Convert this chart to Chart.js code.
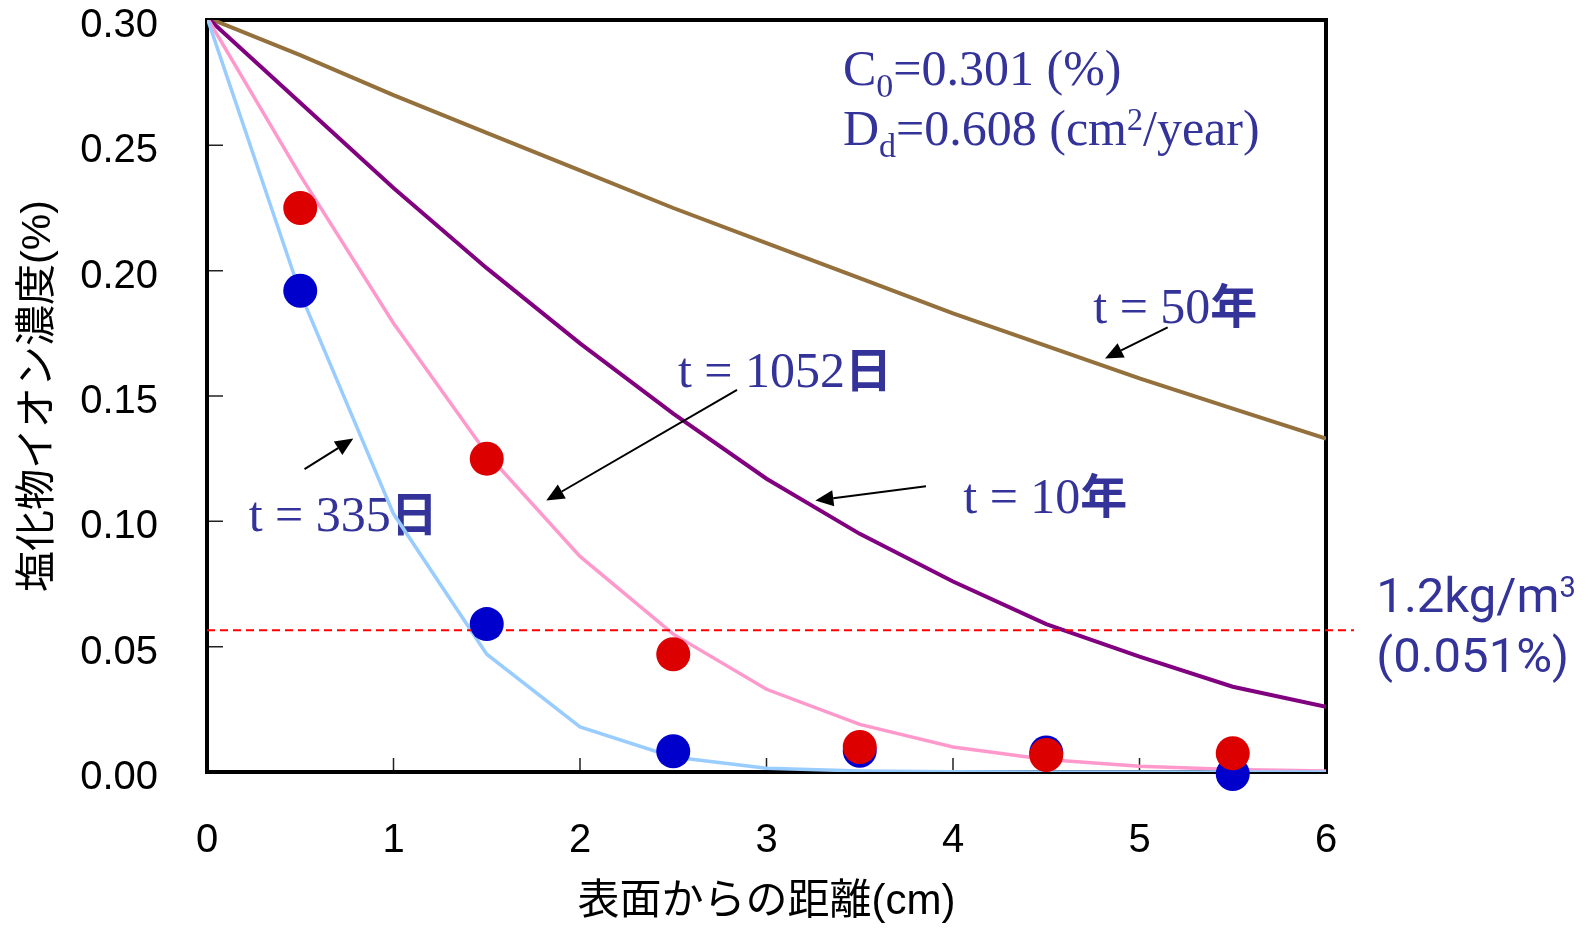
<!DOCTYPE html>
<html>
<head>
<meta charset="utf-8">
<script src="https://cdn.jsdelivr.net/npm/chart.js@4.4.1/dist/chart.umd.min.js"></script>
<style>
    html, body { margin: 0; padding: 0; background: #fff; }
    #chart { display: block; }
</style>
</head>
<body>
<canvas id="chart" width="1592" height="928" style="width:1592px;height:928px"></canvas>
<script>
// 深さ (cm) と計算曲線
const depth = [0, 0.5, 1, 1.5, 2, 2.5, 3, 3.5, 4, 4.5, 5, 5.5, 6];
const conc335d = [0.301, 0.191, 0.103, 0.047, 0.018, 0.006, 0.0015, 0.0004, 0.0001, 0, 0, 0, 0];
const conc1052d = [0.301, 0.238, 0.179, 0.127, 0.086, 0.055, 0.033, 0.019, 0.010, 0.005, 0.0023, 0.001, 0.0004];
const conc10y = [0.301, 0.267, 0.233, 0.201, 0.171, 0.143, 0.117, 0.095, 0.076, 0.059, 0.046, 0.034, 0.026];
const conc50y = [0.301, 0.286, 0.270, 0.255, 0.240, 0.225, 0.211, 0.197, 0.183, 0.170, 0.157, 0.145, 0.133];

// 実測値
const sampleDepth = [0.5, 1.5, 2.5, 3.5, 4.5, 5.5];
const measuredRed = [0.225, 0.125, 0.047, 0.010, 0.0068, 0.0075];
const measuredBlue = [0.192, 0.059, 0.0083, 0.0085, 0.0078, -0.0008];

// 1.2kg/m3 の限界値
const limitDepth = [0, 6.15];
const limitConc = [0.0565, 0.0565];

// 軸目盛
const xTickValues = [0, 1, 2, 3, 4, 5, 6];
const xTickLabels = ['0', '1', '2', '3', '4', '5', '6'];
const yTickValues = [0, 0.05, 0.10, 0.15, 0.20, 0.25, 0.30];
const yTickLabels = ['0.00', '0.05', '0.10', '0.15', '0.20', '0.25', '0.30'];

const toPoints = (xs, ys) => xs.map((x, i) => ({ x: x, y: ys[i] }));

const textColor = '#333399';
const serif = '50px "Liberation Serif"';
const serifSub = '34px "Liberation Serif"';
const serifSup = '32px "Liberation Serif"';
const cjkBold = 'bold 47px "Noto Sans CJK JP"';
const sans = '49px Roboto';
const sansSup = '29px Roboto';

// 注記 (データ座標で位置指定)
const notes = [
    { x: 3.41, y: 0.2741, parts: [['C', serif], ['0', serifSub, 12], ['=0.301 (%)', serif]] },
    { x: 3.41, y: 0.2501, parts: [['D', serif], ['d', serifSub, 12], ['=0.608 (cm', serif], ['2', serifSup, -15], ['/year)', serif]] },
    { x: 4.752, y: 0.1791, parts: [['t = 50', serif], ['年', cjkBold]] },
    { x: 2.525, y: 0.1536, parts: [['t = 1052', serif], ['日', cjkBold]] },
    { x: 4.055, y: 0.1033, parts: [['t = 10', serif], ['年', cjkBold]] },
    { x: 0.2236, y: 0.0961, parts: [['t = 335', serif], ['日', cjkBold]] },
    { x: 6.27, y: 0.0639, parts: [['1.2kg/m', sans], ['3', sansSup, -15]] },
    { x: 6.27, y: 0.0400, parts: [['(0.051%)', sans]] }
];

const arrows = [
    { from: [0.523, 0.1208], to: [0.7845, 0.1330] },
    { from: [2.842, 0.1524], to: [1.819, 0.1083] },
    { from: [3.855, 0.1140], to: [3.262, 0.1083] },
    { from: [5.151, 0.1774], to: [4.815, 0.1650] }
];

function drawParts(ctx, x, y, parts) {
    let cx = x;
    parts.forEach(p => {
        ctx.font = p[1];
        ctx.fillText(p[0], cx, y + (p[2] || 0));
        cx += ctx.measureText(p[0]).width;
    });
}

// 枠・内向き目盛・注記
const framePlugin = {
    id: 'frame',
    beforeDatasetsDraw(chart) {
        const { ctx, chartArea: a, scales: { x, y } } = chart;
        ctx.save();
        ctx.strokeStyle = '#222';
        ctx.lineWidth = 1.5;
        ctx.beginPath();
        yTickValues.forEach(v => {
            const py = y.getPixelForValue(v);
            ctx.moveTo(a.left, py);
            ctx.lineTo(a.left + 16, py);
        });
        xTickValues.forEach(v => {
            const px = x.getPixelForValue(v);
            ctx.moveTo(px, a.bottom);
            ctx.lineTo(px, a.bottom - 14);
        });
        ctx.stroke();
        ctx.strokeStyle = '#000';
        ctx.lineWidth = 4;
        ctx.strokeRect(a.left, a.top, a.right - a.left, a.bottom - a.top);

        ctx.fillStyle = textColor;
        ctx.textBaseline = 'alphabetic';
        ctx.textAlign = 'left';
        notes.forEach(n => {
            drawParts(ctx, x.getPixelForValue(n.x), y.getPixelForValue(n.y), n.parts);
        });
        ctx.restore();
    },
    afterDatasetsDraw(chart) {
        const { ctx, scales: { x, y } } = chart;
        ctx.save();
        ctx.strokeStyle = '#000';
        ctx.fillStyle = '#000';
        ctx.lineWidth = 2;
        arrows.forEach(ar => {
            const x1 = x.getPixelForValue(ar.from[0]), y1 = y.getPixelForValue(ar.from[1]);
            const x2 = x.getPixelForValue(ar.to[0]), y2 = y.getPixelForValue(ar.to[1]);
            const ang = Math.atan2(y2 - y1, x2 - x1);
            const len = 18, half = 8;
            const bx = x2 - len * Math.cos(ang), by = y2 - len * Math.sin(ang);
            ctx.beginPath();
            ctx.moveTo(x1, y1);
            ctx.lineTo(bx, by);
            ctx.stroke();
            ctx.beginPath();
            ctx.moveTo(x2, y2);
            ctx.lineTo(bx + half * Math.sin(ang), by - half * Math.cos(ang));
            ctx.lineTo(bx - half * Math.sin(ang), by + half * Math.cos(ang));
            ctx.closePath();
            ctx.fill();
        });
        ctx.restore();
    }
};

Chart.defaults.font.family = '"Liberation Sans", "Noto Sans CJK JP"';
Chart.defaults.color = '#000';

const lineSet = (data, color, width, order) => ({
    data: data,
    showLine: true,
    borderColor: color,
    borderWidth: width,
    pointRadius: 0,
    fill: false,
    tension: 0,
    order: order
});

const ctx = document.getElementById('chart').getContext('2d');
const chart = new Chart(ctx, {
    type: 'scatter',
    data: {
        datasets: [
            {
                data: toPoints(sampleDepth, measuredRed),
                backgroundColor: '#dd0000',
                borderWidth: 0,
                pointRadius: 17,
                clip: false,
                order: 0
            },
            {
                data: toPoints(sampleDepth, measuredBlue),
                backgroundColor: '#0000cc',
                borderWidth: 0,
                pointRadius: 17,
                clip: false,
                order: 1
            },
            {
                data: toPoints(limitDepth, limitConc),
                showLine: true,
                borderColor: '#ff0000',
                borderWidth: 2,
                borderDash: [8, 5],
                pointRadius: 0,
                clip: false,
                order: 2
            },
            lineSet(toPoints(depth, conc335d), '#99ccff', 3.5, 3),
            lineSet(toPoints(depth, conc1052d), '#ff99cc', 3.5, 4),
            lineSet(toPoints(depth, conc10y), '#800080', 4, 5),
            lineSet(toPoints(depth, conc50y), '#94703c', 4, 6)
        ]
    },
    options: {
        responsive: false,
        animation: false,
        devicePixelRatio: 1,
        layout: { padding: { top: 20, right: 266, left: 0, bottom: 0 } },
        plugins: {
            legend: { display: false },
            tooltip: { enabled: false }
        },
        scales: {
            x: {
                type: 'linear',
                min: 0,
                max: 6,
                grid: { display: false },
                border: { display: false },
                afterFit: scale => {
                    scale.height = 156;
                    scale.paddingLeft = 0;
                    scale.paddingRight = 0;
                },
                afterBuildTicks: scale => { scale.ticks = xTickValues.map(v => ({ value: v })); },
                ticks: {
                    autoSkip: false,
                    maxRotation: 0,
                    padding: 37,
                    font: { size: 40 },
                    callback: (v, i) => xTickLabels[i]
                },
                title: {
                    display: true,
                    text: '表面からの距離(cm)',
                    font: { size: 42 },
                    padding: { top: 0, bottom: 0 }
                }
            },
            y: {
                type: 'linear',
                min: 0,
                max: 0.30,
                grid: { display: false },
                border: { display: false },
                afterFit: scale => {
                    scale.width = 207;
                    scale.paddingTop = 0;
                    scale.paddingBottom = 0;
                },
                afterBuildTicks: scale => { scale.ticks = yTickValues.map(v => ({ value: v })); },
                ticks: {
                    autoSkip: false,
                    padding: 41,
                    labelOffset: 6,
                    font: { size: 40 },
                    callback: (v, i) => yTickLabels[i]
                },
                title: {
                    display: true,
                    text: '塩化物イオン濃度(%)',
                    font: { size: 41 },
                    padding: { top: 14, bottom: 0 }
                }
            }
        }
    },
    plugins: [framePlugin]
});
</script>
</body>
</html>
